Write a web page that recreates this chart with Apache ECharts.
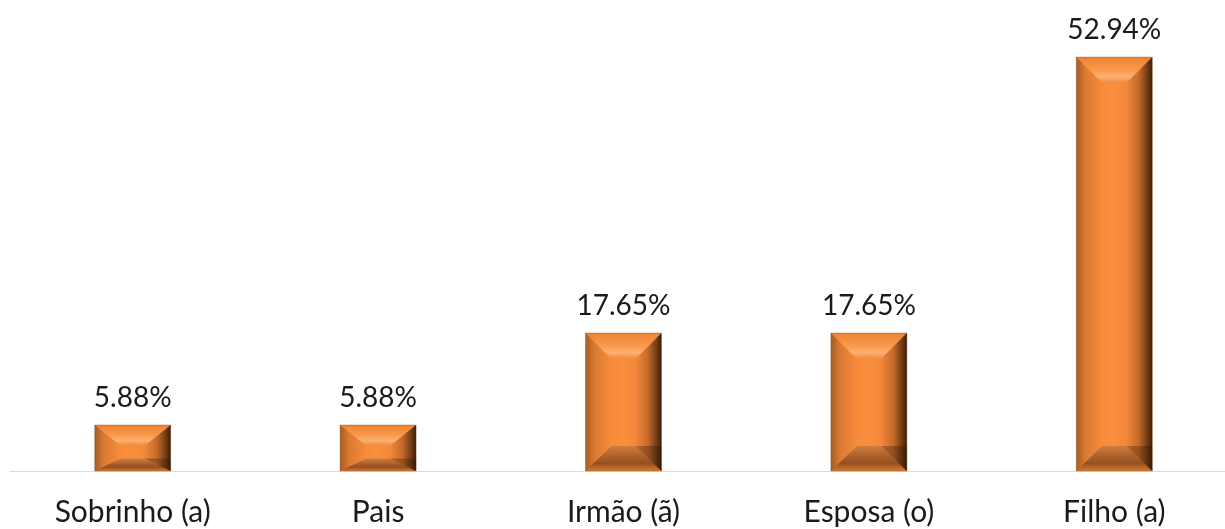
<!DOCTYPE html>
<html><head><meta charset="utf-8">
<script src="https://cdn.jsdelivr.net/npm/echarts@6/dist/echarts.min.js"></script>
<style>html,body{margin:0;padding:0;background:#fff}#c{width:1225px;height:529px}</style>
</head><body><div id="c"></div>
<script>
var categories = ['Sobrinho (a)', 'Pais', 'Irmão (ã)', 'Esposa (o)', 'Filho (a)'];
var values = [5.88, 5.88, 17.65, 17.65, 52.94];

var chart = echarts.init(document.getElementById('c'));
var font = 'Lato, "Open Sans", sans-serif';

function renderItem(params, api) {
  var v = api.value(1);
  var base = api.coord([api.value(0), 0]);
  var top = api.coord([api.value(0), v]);
  var w = 76;
  var x0 = base[0] - w / 2, x1 = base[0] + w / 2;
  var y0 = top[1], y1 = base[1];
  var h = y1 - y0;
  var bt = Math.min(26, h * 0.45);
  var bb = Math.min(25, h * 0.27);
  var bs = 26;
  var ix0 = x0 + bs, ix1 = x1 - bs;
  var iy0 = y0 + bt, iy1 = y1 - bb;
  var lg = echarts.graphic.LinearGradient;
  return {
    type: 'group',
    children: [
      { type: 'rect', shape: { x: x0, y: y0, width: w, height: h },
        style: { fill: new lg(0, 0, 1, 0, [
          { offset: 0, color: '#a85c22' }, { offset: 0.12, color: '#d97a32' },
          { offset: 0.34, color: '#f78b3a' }, { offset: 0.5, color: '#fa8f3e' },
          { offset: 0.66, color: '#f2873a' }, { offset: 0.82, color: '#c56a2a' },
          { offset: 0.94, color: '#6e3a14' }, { offset: 1, color: '#3a1e08' }]) } },
      // top bevel
      { type: 'polygon', shape: { points: [[x0, y0], [x1, y0], [ix1, iy0], [ix0, iy0]] },
        style: { fill: new lg(0, 0, 0, 1, [
          { offset: 0, color: '#ee8232' }, { offset: 0.5, color: '#f99a4c' },
          { offset: 0.75, color: '#fcb070' }, { offset: 1, color: '#f08a40' }]) } },
      // bottom bevel
      { type: 'polygon', shape: { points: [[ix0, iy1], [ix1, iy1], [x1, y1], [x0, y1]] },
        style: { fill: new lg(0, 0, 0, 1, [
          { offset: 0, color: '#cc7e3c' }, { offset: 0.45, color: '#a85e2c' },
          { offset: 0.7, color: '#955020' }, { offset: 1, color: '#d67a30' }]) } },
      // right darken on bottom
      { type: 'polygon', shape: { points: [[ix1, iy1], [x1, iy1 + 0.0001], [x1, y1]] },
        style: { fill: 'rgba(40,20,5,0.3)' } },
      // thin border
      { type: 'rect', shape: { x: x0, y: y0, width: w, height: h },
        style: { fill: null, stroke: 'rgba(120,70,30,0.35)', lineWidth: 1 } },
      { type: 'text', style: { text: v.toFixed(2) + '%', x: base[0], y: y0 - 13,
        align: 'center', verticalAlign: 'bottom', fill: '#1a1a1a',
        font: '28px ' + font } }
    ]
  };
}

chart.setOption({
  animation: false,
  grid: { left: 10, width: 1227, top: 41, bottom: 58, outerBoundsMode: 'none', containLabel: false },
  xAxis: {
    type: 'category', data: categories,
    axisLine: { lineStyle: { color: '#d9d9d9', width: 1 } },
    axisTick: { show: false },
    axisLabel: { color: '#1a1a1a', fontSize: 30, fontFamily: font, margin: 26 }
  },
  yAxis: { type: 'value', min: 0, max: 55, show: false, splitLine: { show: false } },
  series: [{
    type: 'custom', renderItem: renderItem,
    data: values.map(function (v, i) { return [i, v]; })
  }]
});
</script></body></html>
